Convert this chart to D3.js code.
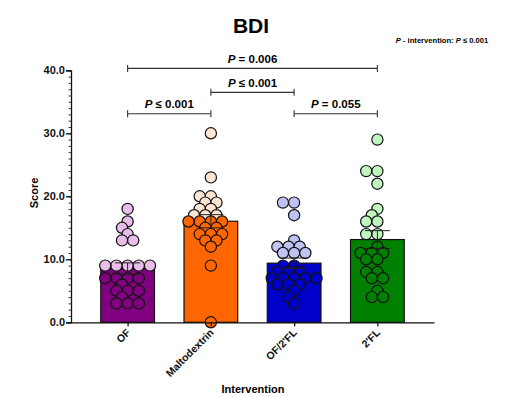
<!DOCTYPE html>
<html>
<head>
<meta charset="utf-8">
<script src="https://cdn.jsdelivr.net/npm/d3@7"></script>
<style>
  body { margin: 0; background: #fff; }
  svg { font-family: "Liberation Sans", Arial, sans-serif; }
</style>
</head>
<body>
<div id="chart"></div>
<script>
// groups and individual scores
var groups = ["OF", "Maltodextrin", "OF/2'FL", "2'FL"];
var ofScores = [18, 16, 15, 14, 13, 13, 9, 9, 9, 9, 9, 7, 7, 7, 7, 6, 5, 5, 5, 4, 3, 3, 3];
var maltoScores = [30, 23, 20, 20, 19, 19, 18, 18, 17, 17, 17, 16, 16, 16, 16, 15, 15, 14, 14, 14, 13, 13, 12, 9, 0];
var of2flScores = [19, 19, 17, 13, 12, 12, 12, 11, 11, 11, 9, 9, 8, 8, 8, 7, 7, 7, 7, 7, 6, 6, 6, 5, 4, 3];
var fl2Scores = [29, 24, 24, 22, 18, 17, 16, 16, 14, 14, 12, 11, 11, 11, 10, 10, 8, 8, 7, 7, 5, 4, 4];
var scores = [ofScores, maltoScores, of2flScores, fl2Scores];

var barColors = ["#800080", "#ff6600", "#0000c8", "#008000"];
var lightColors = ["#e8bdea", "#fde6d4", "#c0c2f4", "#c0f5c0"];

var yTicks = [0, 10, 20, 30, 40];

// significance brackets
var pairsFrom = ["OF", "Maltodextrin", "OF", "OF/2'FL"];
var pairsTo = ["2'FL", "OF/2'FL", "Maltodextrin", "2'FL"];
var pSigns = ["= 0.006", "\u2264 0.001", "\u2264 0.001", "= 0.055"];
var pLevels = [40.3, 36.5, 33.1, 33.1];

var width = 524, height = 397;
var svg = d3.select("#chart").append("svg")
  .attr("width", width)
  .attr("height", height);

var x = d3.scalePoint().domain(groups).range([71, 434]).padding(0.68);
var y = d3.scaleLinear().domain([0, 40]).range([322.3, 70.3]);
var step = x.step();
var barW = step * 0.645;
var r = 5.6;

// title and note
svg.append("text")
  .attr("x", 251).attr("y", 33)
  .attr("text-anchor", "middle")
  .style("font-size", "21px").style("font-weight", "bold")
  .text("BDI");

var note = svg.append("text")
  .attr("x", 442).attr("y", 43)
  .attr("text-anchor", "middle")
  .style("font-size", "7.6px").style("font-weight", "bold");
note.append("tspan").style("font-style", "italic").text("P");
note.append("tspan").text(" - intervention: ");
note.append("tspan").style("font-style", "italic").text("P");
note.append("tspan").text(" \u2264 0.001");

// bars
var stats = groups.map(function (g, i) {
  var v = scores[i];
  var m = d3.mean(v);
  var sem = d3.deviation(v) / Math.sqrt(v.length);
  return { group: g, mean: m, sem: sem, i: i };
});

svg.append("g").selectAll("rect")
  .data(stats)
  .enter().append("rect")
  .attr("x", function (d) { return x(d.group) - barW / 2; })
  .attr("y", function (d) { return y(d.mean); })
  .attr("width", barW)
  .attr("height", function (d) { return y(0) - y(d.mean); })
  .attr("fill", function (d) { return barColors[d.i]; })
  .attr("stroke", "#111")
  .attr("stroke-width", 1.2);

// swarm, high to low, nearest free half-diameter slot; points may overlap a bit
function swarm(values) {
  var placed = [];
  var sorted = values.slice().sort(function (a, b) { return b - a; });
  var dia = 2 * r;
  var minD = dia * 0.74;
  sorted.forEach(function (v) {
    var py = y(v);
    for (var k = 0; k < 40; k++) {
      var off = (k % 2 === 0 ? 1 : -1) * Math.ceil(k / 2) * dia / 2;
      var ok = placed.every(function (p) {
        var dx = p.off - off, dy = p.py - py;
        if (Math.abs(dy) < 1) return Math.abs(dx) >= dia * 0.99;
        return dx * dx + dy * dy >= minD * minD;
      });
      if (ok) { placed.push({ v: v, off: off, py: py }); break; }
    }
  });
  return placed;
}

stats.forEach(function (s) {
  var pts = swarm(scores[s.i]);
  svg.append("g").selectAll("circle")
    .data(pts)
    .enter().append("circle")
    .attr("cx", function (d) { return x(s.group) + d.off; })
    .attr("cy", function (d) { return d.py; })
    .attr("r", r)
    .attr("fill", function (d) { return d.v > s.mean ? lightColors[s.i] : barColors[s.i]; })
    .attr("stroke", "#111")
    .attr("stroke-width", 1.2);
});

// error bars, mean +- SEM
var capW = 25;
var eb = svg.append("g").attr("stroke", "#222").attr("stroke-width", 1);
stats.forEach(function (s) {
  var cx = x(s.group);
  eb.append("line").attr("x1", cx).attr("x2", cx)
    .attr("y1", y(s.mean - s.sem)).attr("y2", y(s.mean + s.sem));
  [s.mean - s.sem, s.mean + s.sem].forEach(function (v) {
    eb.append("line").attr("x1", cx - capW / 2).attr("x2", cx + capW / 2)
      .attr("y1", y(v)).attr("y2", y(v));
  });
});

// y axis
var yAxis = svg.append("g")
  .attr("transform", "translate(71,0)")
  .call(d3.axisLeft(y).tickValues(yTicks).tickFormat(d3.format(".1f")).tickSize(5).tickPadding(1));
yAxis.select(".domain").attr("stroke", "#111").attr("stroke-width", 1.3);
yAxis.selectAll(".tick line").attr("stroke", "#111").attr("stroke-width", 1.3);
yAxis.selectAll("text")
  .style("font-size", "11px").style("font-weight", "bold")
  .style("font-family", "'Liberation Sans', Arial, sans-serif")
  .attr("fill", "#111");

svg.append("g")
  .attr("transform", "translate(71,0)")
  .call(d3.axisLeft(y).ticks(40).tickFormat("").tickSize(2.5))
  .call(function (g) { g.select(".domain").remove(); })
  .selectAll("line").attr("stroke", "#111").attr("stroke-width", 0.8);

svg.append("text")
  .attr("transform", "translate(38,193) rotate(-90)")
  .attr("text-anchor", "middle")
  .style("font-size", "11px").style("font-weight", "bold")
  .text("Score");

// x axis
var xAxis = svg.append("g")
  .attr("transform", "translate(0," + y(0) + ")")
  .call(d3.axisBottom(x).tickSize(4).tickSizeOuter(0));
xAxis.select(".domain").attr("stroke", "#111").attr("stroke-width", 1.3);
xAxis.selectAll(".tick line").attr("stroke", "#111").attr("stroke-width", 1.3);
xAxis.selectAll("text")
  .attr("text-anchor", "end")
  .attr("dx", 0).attr("dy", 0).attr("y", 0)
  .attr("transform", "translate(3,11) rotate(-45)")
  .style("font-size", "10.5px").style("font-weight", "bold")
  .style("font-family", "'Liberation Sans', Arial, sans-serif")
  .attr("fill", "#111");

svg.append("text")
  .attr("x", 253).attr("y", 393)
  .attr("text-anchor", "middle")
  .style("font-size", "11px").style("font-weight", "bold")
  .text("Intervention");

// brackets
var br = svg.append("g");
pairsFrom.forEach(function (a, i) {
  var x1 = x(a), x2 = x(pairsTo[i]), yy = y(pLevels[i]);
  br.append("line").attr("x1", x1).attr("x2", x2).attr("y1", yy).attr("y2", yy)
    .attr("stroke", "#333").attr("stroke-width", 1.1);
  [x1, x2].forEach(function (xx) {
    br.append("line").attr("x1", xx).attr("x2", xx).attr("y1", yy - 3.5).attr("y2", yy + 3.5)
      .attr("stroke", "#333").attr("stroke-width", 1.1);
  });
  var t = br.append("text")
    .attr("x", (x1 + x2) / 2).attr("y", yy - 5.7)
    .attr("text-anchor", "middle")
    .style("font-size", "11.5px").style("font-weight", "bold");
  t.append("tspan").style("font-style", "italic").text("P");
  t.append("tspan").text(" " + pSigns[i]);
});
</script>
</body>
</html>
